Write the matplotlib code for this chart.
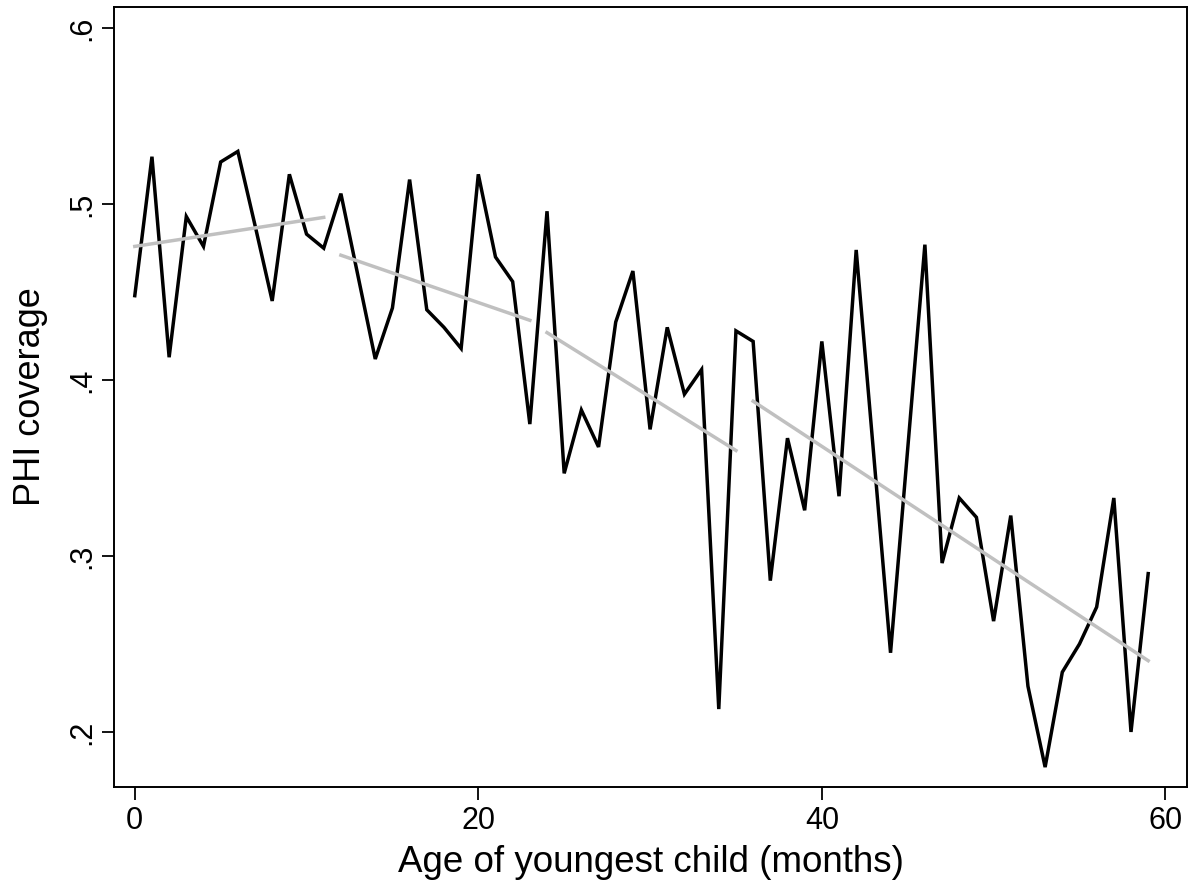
import matplotlib
matplotlib.use('Agg')
import matplotlib.pyplot as plt

# ================== data ==================
age_months = list(range(60))
phi_coverage = [
    0.448, 0.527, 0.413, 0.493, 0.476, 0.524, 0.530, 0.488, 0.445, 0.517,
    0.483, 0.475, 0.506, 0.459, 0.412, 0.441, 0.514, 0.440, 0.430, 0.418,
    0.517, 0.470, 0.456, 0.375, 0.496, 0.347, 0.383, 0.362, 0.433, 0.462,
    0.372, 0.430, 0.392, 0.406, 0.213, 0.428, 0.422, 0.286, 0.367, 0.326,
    0.422, 0.334, 0.474, 0.360, 0.245, 0.361, 0.477, 0.296, 0.333, 0.322,
    0.263, 0.323, 0.226, 0.180, 0.234, 0.250, 0.271, 0.333, 0.200, 0.290,
]

# fitted lines per age band (start/end x, start/end value)
fit_x0 = [0, 12, 24, 36]
fit_x1 = [11, 23, 35, 59]
fit_y0 = [0.476, 0.471, 0.427, 0.388]
fit_y1 = [0.4925, 0.434, 0.360, 0.2405]

ytick_vals = [0.2, 0.3, 0.4, 0.5, 0.6]
ytick_labels = ['.2', '.3', '.4', '.5', '.6']
xtick_vals = [0, 20, 40, 60]
xtick_labels = ['0', '20', '40', '60']

# ================== plot ==================
plt.rcParams['font.family'] = ['Liberation Sans', 'DejaVu Sans']

fig = plt.figure(figsize=(11.91, 8.96), dpi=100)
ax = fig.add_axes([114 / 1191, 1 - 787 / 896, (1187 - 114) / 1191, (787 - 7) / 896])

ax.plot(age_months, phi_coverage, color='black', linewidth=2.5, solid_joinstyle='miter', zorder=3)
for a, b, c, d in zip(fit_x0, fit_x1, fit_y0, fit_y1):
    ax.plot([a, b], [c, d], color='#c0c0c0', linewidth=2.5, zorder=4)

ax.set_xlim(-1.21, 61.26)
ax.set_ylim(0.1687, 0.6121)

ax.set_xticks(xtick_vals)
ax.set_xticklabels(xtick_labels)
ax.set_yticks(ytick_vals)
ax.set_yticklabels(ytick_labels, rotation=90, va='center')

ax.tick_params(axis='both', direction='out', length=9, width=1.3, labelsize=22, colors='black')
ax.tick_params(axis='x', pad=5)
ax.tick_params(axis='y', pad=3)
for sp in ax.spines.values():
    sp.set_linewidth(1.4)
    sp.set_color('black')

ax.set_xlabel('Age of youngest child (months)', fontsize=26.5, labelpad=6)
ax.set_ylabel('PHI coverage', fontsize=26, labelpad=14)

fig.savefig('out.png', dpi=100)
